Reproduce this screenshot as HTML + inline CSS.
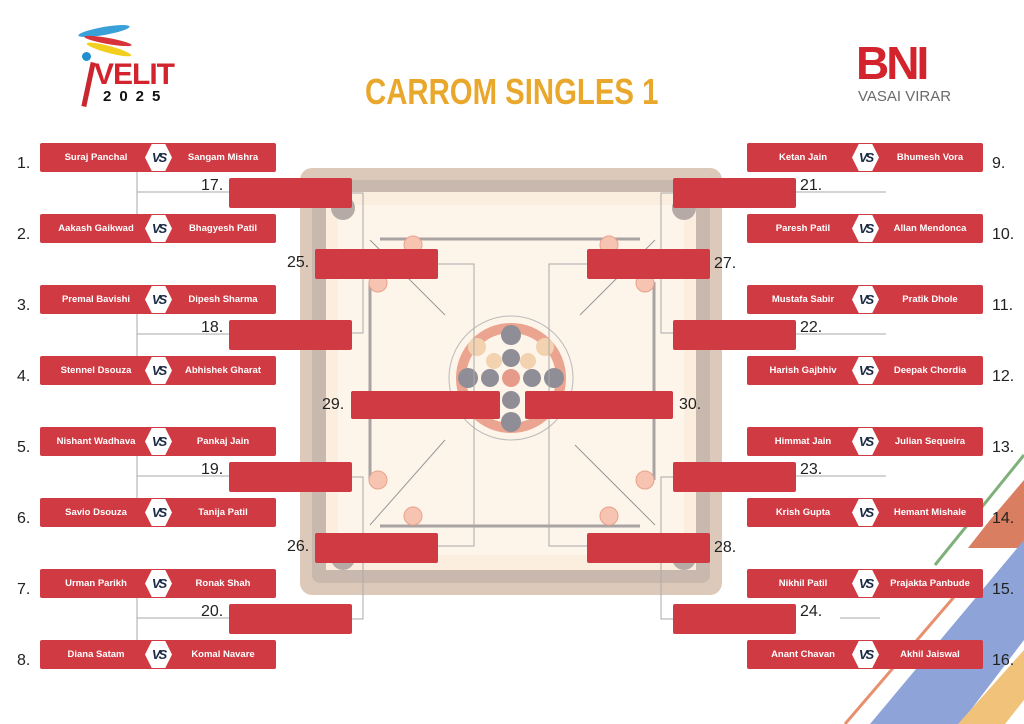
<!DOCTYPE html>
<html><head><meta charset="utf-8"><style>
*{margin:0;padding:0;box-sizing:border-box}
body{width:1024px;height:724px;background:#fff;position:relative;overflow:hidden;font-family:"Liberation Sans",sans-serif}
.m{position:absolute;width:236px;height:29px;background:#cf3a43;border-radius:2px;color:#fff;font-size:9.5px;font-weight:bold}
.m .a{position:absolute;left:0;width:112px;text-align:center;top:9px}
.m .b{position:absolute;left:130px;width:106px;text-align:center;top:9px}
.vs{position:absolute;left:105px;top:1px;width:27px;height:27px;background:#fff;clip-path:polygon(25% 0,75% 0,100% 50%,75% 100%,25% 100%,0 50%);color:#1b2a44;font-size:13px;font-weight:bold;text-align:center;line-height:27px;font-style:italic;letter-spacing:-2px}
.r{position:absolute;background:#cf3a43;border-radius:2px;height:30px}
.n{position:absolute;font-size:16px;color:#222}
</style></head><body>
<svg width="1024" height="724" style="position:absolute;left:0;top:0">
<line x1="1024" y1="455" x2="935" y2="565" stroke="#7fb07a" stroke-width="3"/>
<polygon points="1024,480 1024,548 968,548 990,520" fill="#d97e60"/>
<polygon points="1024,540 1024,640 960,724 870,724" fill="#8ea3d8"/>
<line x1="960" y1="590" x2="845" y2="724" stroke="#e8906e" stroke-width="3"/>
<polygon points="1024,650 1024,700 1005,724 958,724" fill="#f0c27a"/>
<rect x="300" y="168" width="422" height="427" rx="12" fill="#dcc9b9"/>
<rect x="312" y="180" width="398" height="403" rx="8" fill="#c9b8ad"/>
<rect x="326" y="192" width="370" height="378" fill="#fbeede"/>
<rect x="338" y="205" width="346" height="350" fill="#fdf4ea"/>
<circle cx="343" cy="208" r="12" fill="#b5aaa6"/><circle cx="684" cy="208" r="12" fill="#b5aaa6"/>
<circle cx="343" cy="558" r="12" fill="#b5aaa6"/><circle cx="684" cy="558" r="12" fill="#b5aaa6"/>
<g stroke="#a9a3a3" stroke-width="3" fill="none">
<line x1="380" y1="239" x2="640" y2="239"/><line x1="380" y1="526" x2="640" y2="526"/>
<line x1="370" y1="282" x2="370" y2="480"/><line x1="654" y1="282" x2="654" y2="480"/></g>
<g fill="#f6c4b1" stroke="#e8a28d"><circle cx="413" cy="245" r="9"/><circle cx="609" cy="245" r="9"/><circle cx="378" cy="283" r="9"/><circle cx="645" cy="283" r="9"/><circle cx="378" cy="480" r="9"/><circle cx="645" cy="480" r="9"/><circle cx="413" cy="516" r="9"/><circle cx="609" cy="516" r="9"/></g>
<g stroke="#999" stroke-width="1" fill="none">
<line x1="370" y1="240" x2="445" y2="315"/><line x1="655" y1="240" x2="580" y2="315"/>
<line x1="370" y1="525" x2="445" y2="440"/><line x1="655" y1="525" x2="575" y2="445"/>
<circle cx="511" cy="378" r="62" stroke="#bbb"/></g>
<circle cx="511" cy="378" r="55" fill="#eaa48f"/>
<circle cx="511" cy="378" r="45" fill="#fdf4ea"/>
<g fill="#8f8e97"><circle cx="511" cy="335" r="10"/><circle cx="511" cy="358" r="9"/><circle cx="468" cy="378" r="10"/><circle cx="490" cy="378" r="9"/><circle cx="532" cy="378" r="9"/><circle cx="554" cy="378" r="10"/><circle cx="511" cy="400" r="9"/><circle cx="511" cy="422" r="10"/></g>
<g fill="#f3d2b0"><circle cx="477" cy="347" r="9"/><circle cx="545" cy="347" r="9"/><circle cx="494" cy="361" r="8"/><circle cx="528" cy="361" r="8"/></g>
<circle cx="511" cy="378" r="9" fill="#e69a8a"/>
<g stroke="#aaa" stroke-width="1" fill="none">
<path d="M137 172V214M137 192H229"/><path d="M137 314V356M137 334H229"/>
<path d="M137 456V498M137 476H229"/><path d="M137 598V640M137 618H229"/>
<path d="M352 193H363V333H352"/><path d="M352 477H363V619H352"/>
<path d="M438 264H474V546H438"/><path d="M886 192H796"/><path d="M886 334H796"/><path d="M886 476H796"/><path d="M880 618H840"/>
<path d="M673 193H661V333H673"/><path d="M673 477H661V619H673"/>
<path d="M587 264H549V546H587"/></g>
</svg>
<div style="position:absolute;left:78px;top:22px;width:50px;height:80px">
<div style="position:absolute;left:0;top:5px;width:52px;height:8px;background:#3aa0d8;border-radius:50%;transform:rotate(-10deg)"></div>
<div style="position:absolute;left:6px;top:16px;width:48px;height:6px;background:#d8333b;border-radius:50%;transform:rotate(10deg)"></div>
<div style="position:absolute;left:8px;top:24px;width:46px;height:7px;background:#f2cf1e;border-radius:50%;transform:rotate(15deg)"></div>
<div style="position:absolute;left:4px;top:30px;width:9px;height:9px;background:#1f8fd0;border-radius:50%"></div>
<div style="position:absolute;left:8px;top:40px;width:5px;height:45px;background:#c9262f;transform:rotate(12deg)"></div>
</div>
<div style="position:absolute;left:94px;top:58px;font-size:30px;font-weight:bold;color:#d3232c;letter-spacing:-1px">VELIT</div>
<div style="position:absolute;left:103px;top:88px;font-size:15px;font-weight:bold;color:#111;letter-spacing:8px">2025</div>
<div style="position:absolute;left:365px;top:71px;font-size:36px;font-weight:bold;color:#e9a72b;white-space:nowrap;transform:scaleX(0.815);transform-origin:0 0">CARROM SINGLES 1</div>
<div style="position:absolute;left:856px;top:38px;font-size:46px;font-weight:bold;color:#d3232c;letter-spacing:-3px;line-height:50px">BNI</div>
<div style="position:absolute;left:858px;top:88px;font-size:15px;color:#6b6b6b">VASAI VIRAR</div>
<div class="m" style="left:40px;top:143px"><span class="a">Suraj Panchal</span><span class="vs">VS</span><span class="b">Sangam Mishra</span></div>
<div class="m" style="left:40px;top:214px"><span class="a">Aakash Gaikwad</span><span class="vs">VS</span><span class="b">Bhagyesh Patil</span></div>
<div class="m" style="left:40px;top:285px"><span class="a">Premal Bavishi</span><span class="vs">VS</span><span class="b">Dipesh Sharma</span></div>
<div class="m" style="left:40px;top:356px"><span class="a">Stennel Dsouza</span><span class="vs">VS</span><span class="b">Abhishek Gharat</span></div>
<div class="m" style="left:40px;top:427px"><span class="a">Nishant Wadhava</span><span class="vs">VS</span><span class="b">Pankaj Jain</span></div>
<div class="m" style="left:40px;top:498px"><span class="a">Savio Dsouza</span><span class="vs">VS</span><span class="b">Tanija Patil</span></div>
<div class="m" style="left:40px;top:569px"><span class="a">Urman Parikh</span><span class="vs">VS</span><span class="b">Ronak Shah</span></div>
<div class="m" style="left:40px;top:640px"><span class="a">Diana Satam</span><span class="vs">VS</span><span class="b">Komal Navare</span></div>
<div class="m" style="left:747px;top:143px"><span class="a">Ketan Jain</span><span class="vs">VS</span><span class="b">Bhumesh Vora</span></div>
<div class="m" style="left:747px;top:214px"><span class="a">Paresh Patil</span><span class="vs">VS</span><span class="b">Allan Mendonca</span></div>
<div class="m" style="left:747px;top:285px"><span class="a">Mustafa Sabir</span><span class="vs">VS</span><span class="b">Pratik Dhole</span></div>
<div class="m" style="left:747px;top:356px"><span class="a">Harish Gajbhiv</span><span class="vs">VS</span><span class="b">Deepak Chordia</span></div>
<div class="m" style="left:747px;top:427px"><span class="a">Himmat Jain</span><span class="vs">VS</span><span class="b">Julian Sequeira</span></div>
<div class="m" style="left:747px;top:498px"><span class="a">Krish Gupta</span><span class="vs">VS</span><span class="b">Hemant Mishale</span></div>
<div class="m" style="left:747px;top:569px"><span class="a">Nikhil Patil</span><span class="vs">VS</span><span class="b">Prajakta Panbude</span></div>
<div class="m" style="left:747px;top:640px"><span class="a">Anant Chavan</span><span class="vs">VS</span><span class="b">Akhil Jaiswal</span></div>
<div class="r" style="left:229px;top:178px;width:123px"></div>
<div class="r" style="left:229px;top:320px;width:123px"></div>
<div class="r" style="left:229px;top:462px;width:123px"></div>
<div class="r" style="left:229px;top:604px;width:123px"></div>
<div class="r" style="left:673px;top:178px;width:123px"></div>
<div class="r" style="left:673px;top:320px;width:123px"></div>
<div class="r" style="left:673px;top:462px;width:123px"></div>
<div class="r" style="left:673px;top:604px;width:123px"></div>
<div class="r" style="left:315px;top:249px;width:123px"></div>
<div class="r" style="left:315px;top:533px;width:123px"></div>
<div class="r" style="left:587px;top:249px;width:123px"></div>
<div class="r" style="left:587px;top:533px;width:123px"></div>
<div class="r" style="left:351px;top:391px;width:149px;height:28px"></div>
<div class="r" style="left:525px;top:391px;width:148px;height:28px"></div>
<div class="n" style="left:17px;top:155px">1.</div><div class="n" style="left:17px;top:226px">2.</div>
<div class="n" style="left:17px;top:297px">3.</div><div class="n" style="left:17px;top:368px">4.</div>
<div class="n" style="left:17px;top:439px">5.</div><div class="n" style="left:17px;top:510px">6.</div>
<div class="n" style="left:17px;top:581px">7.</div><div class="n" style="left:17px;top:652px">8.</div>
<div class="n" style="left:992px;top:155px">9.</div><div class="n" style="left:992px;top:226px">10.</div>
<div class="n" style="left:992px;top:297px">11.</div><div class="n" style="left:992px;top:368px">12.</div>
<div class="n" style="left:992px;top:439px">13.</div><div class="n" style="left:992px;top:510px">14.</div>
<div class="n" style="left:992px;top:581px">15.</div><div class="n" style="left:992px;top:652px">16.</div>
<div class="n" style="left:201px;top:177px">17.</div><div class="n" style="left:201px;top:319px">18.</div>
<div class="n" style="left:201px;top:461px">19.</div><div class="n" style="left:201px;top:603px">20.</div>
<div class="n" style="left:800px;top:177px">21.</div><div class="n" style="left:800px;top:319px">22.</div>
<div class="n" style="left:800px;top:461px">23.</div><div class="n" style="left:800px;top:603px">24.</div>
<div class="n" style="left:287px;top:254px">25.</div><div class="n" style="left:287px;top:538px">26.</div>
<div class="n" style="left:714px;top:255px">27.</div><div class="n" style="left:714px;top:539px">28.</div>
<div class="n" style="left:322px;top:396px">29.</div><div class="n" style="left:679px;top:396px">30.</div>
</body></html>
